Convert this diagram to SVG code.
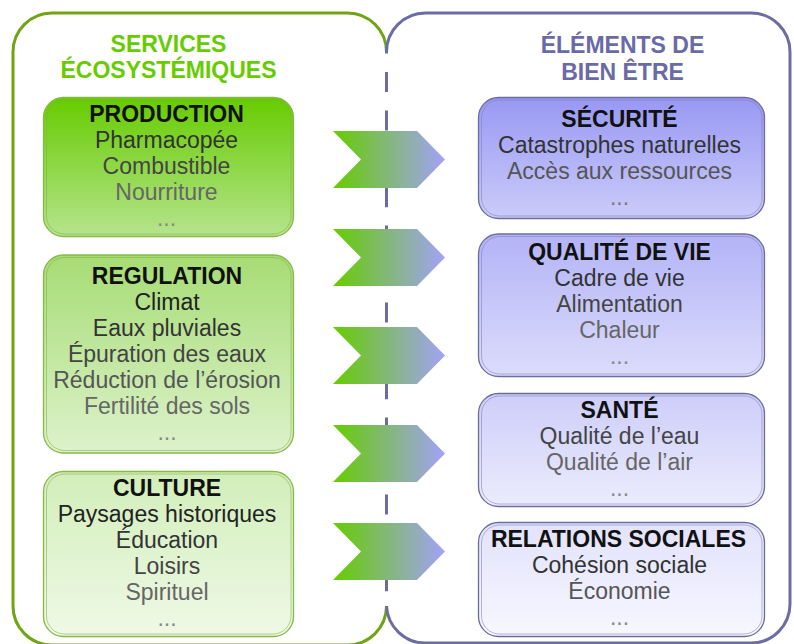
<svg xmlns="http://www.w3.org/2000/svg" width="794" height="644" viewBox="0 0 794 644">
  <defs>
    <linearGradient id="arrowGrad" x1="0" y1="0" x2="1" y2="0">
      <stop offset="0" stop-color="#66cc00"/>
      <stop offset="1" stop-color="#a2a2f8"/>
    </linearGradient>
    <linearGradient id="gProd" x1="0" y1="0" x2="0" y2="1">
      <stop offset="0" stop-color="#66cc00"/>
      <stop offset="1" stop-color="#b6e48e"/>
    </linearGradient>
    <linearGradient id="gReg" x1="0" y1="0" x2="0" y2="1">
      <stop offset="0" stop-color="#a6dc74"/>
      <stop offset="1" stop-color="#ddf2cb"/>
    </linearGradient>
    <linearGradient id="gCult" x1="0" y1="0" x2="0" y2="1">
      <stop offset="0" stop-color="#d2eeb9"/>
      <stop offset="1" stop-color="#eff9e7"/>
    </linearGradient>
    <linearGradient id="gSec" x1="0" y1="0" x2="0" y2="1">
      <stop offset="0" stop-color="#9898f4"/>
      <stop offset="1" stop-color="#cbcbfa"/>
    </linearGradient>
    <linearGradient id="gQual" x1="0" y1="0" x2="0" y2="1">
      <stop offset="0" stop-color="#b3b3f7"/>
      <stop offset="1" stop-color="#dcdcfc"/>
    </linearGradient>
    <linearGradient id="gSante" x1="0" y1="0" x2="0" y2="1">
      <stop offset="0" stop-color="#cdcdfa"/>
      <stop offset="1" stop-color="#ececfd"/>
    </linearGradient>
    <linearGradient id="gRel" x1="0" y1="0" x2="0" y2="1">
      <stop offset="0" stop-color="#e2e2fc"/>
      <stop offset="1" stop-color="#f7f7ff"/>
    </linearGradient>
    <path id="chevron" d="M0,0 H84 L112,28.5 L84,57 H0 L28,28.5 Z"/>
  </defs>
  <style>
    text { font-family: "Liberation Sans", Arial, sans-serif; font-size: 23px; text-anchor: middle; }
    .head { font-weight: bold; }
    .headG { fill: #66cc00; }
    .headP { fill: #6a6aa6; }
    .title { font-weight: bold; fill: #111; }
    .boxG { stroke: #86b845; stroke-width: 1.3; }
    .boxP { stroke: #6c6c9e; stroke-width: 1.3; }
    .inner { fill: none; stroke-width: 0.9; opacity: 0.6; }
    .innerG { stroke: #7fae3c; }
    .innerP { stroke: #7c7cae; }
    .panelG { fill: none; stroke: #70a414; stroke-width: 3; }
    .panelP { fill: none; stroke: #6c6ca4; stroke-width: 3; }
    .divider { stroke: #6c6c9e; stroke-width: 3; stroke-dasharray: 20 18.4; stroke-dashoffset: 18.4; }
    .c2 { fill: #222; } .c3 { fill: #333; } .c4 { fill: #444; } .c5 { fill: #555; }
    .c6 { fill: #666; } .c7 { fill: #777; } .c8 { fill: #888; }
  </style>

  <!-- outer panels -->
  <g id="panel-services">
    <path class="panelG" d="M386.5,52 A39,39 0 0 0 347.5,13 H52 A39,39 0 0 0 13,52 V606 A39,39 0 0 0 52,645 H347.5 A39,39 0 0 0 386.5,606"/>
    <text class="head headG" x="168.5" y="52">SERVICES</text>
    <text class="head headG" x="168.5" y="77.5">ÉCOSYSTÉMIQUES</text>
  </g>
  <g id="panel-bienetre">
    <path class="panelP" d="M386.5,52 A39,39 0 0 1 425.5,13 H751 A39,39 0 0 1 790,52 V604 A39,39 0 0 1 751,643 H425.5 A39,39 0 0 1 386.5,606"/>
    <text class="head headP" x="622.5" y="53">ÉLÉMENTS DE</text>
    <text class="head headP" x="622.5" y="79.5">BIEN ÊTRE</text>
  </g>

  <!-- connectors: divider and chevrons -->
  <g id="connectors">
    <line class="divider" x1="386.5" y1="52" x2="386.5" y2="606"/>
    <use href="#chevron" x="333" y="131" fill="url(#arrowGrad)"/>
    <use href="#chevron" x="333" y="229" fill="url(#arrowGrad)"/>
    <use href="#chevron" x="333" y="327" fill="url(#arrowGrad)"/>
    <use href="#chevron" x="333" y="425" fill="url(#arrowGrad)"/>
    <use href="#chevron" x="333" y="523" fill="url(#arrowGrad)"/>
  </g>

  <!-- ecosystem services -->
  <g id="production">
    <rect class="boxG" x="43.5" y="97.5" width="250" height="139" rx="20" fill="url(#gProd)"/>
    <rect class="inner innerG" x="46.5" y="100" width="244.5" height="134" rx="18"/>
    <text class="title" x="166.5" y="122">PRODUCTION</text>
    <text class="c3" x="166.5" y="148">Pharmacopée</text>
    <text class="c4" x="166.5" y="174">Combustible</text>
    <text class="c6" x="166.5" y="200">Nourriture</text>
    <text class="c8" x="166.5" y="226">...</text>
  </g>
  <g id="regulation">
    <rect class="boxG" x="43.5" y="255" width="250" height="198" rx="20" fill="url(#gReg)"/>
    <rect class="inner innerG" x="46.5" y="257.5" width="244.5" height="193" rx="18"/>
    <text class="title" x="167" y="283.5">REGULATION</text>
    <text class="c2" x="167" y="309.5">Climat</text>
    <text class="c3" x="167" y="335.5">Eaux pluviales</text>
    <text class="c4" x="167" y="361.5">Épuration des eaux</text>
    <text class="c5" x="167" y="387.5">Réduction de l’érosion</text>
    <text class="c6" x="167" y="413.5">Fertilité des sols</text>
    <text class="c8" x="167" y="439.5">...</text>
  </g>
  <g id="culture">
    <rect class="boxG" x="43.5" y="471.5" width="250" height="165" rx="20" fill="url(#gCult)"/>
    <rect class="inner innerG" x="46.5" y="474" width="244.5" height="160" rx="18"/>
    <text class="title" x="167" y="496">CULTURE</text>
    <text class="c2" x="167" y="522">Paysages historiques</text>
    <text class="c3" x="167" y="548">Éducation</text>
    <text class="c4" x="167" y="574">Loisirs</text>
    <text class="c6" x="167" y="600">Spirituel</text>
    <text class="c8" x="167" y="626">...</text>
  </g>

  <!-- well-being elements -->
  <g id="securite">
    <rect class="boxP" x="478.5" y="97.5" width="286" height="121" rx="20" fill="url(#gSec)"/>
    <rect class="inner innerP" x="481.5" y="100" width="280.5" height="116" rx="18"/>
    <text class="title" x="619.5" y="126.5">SÉCURITÉ</text>
    <text class="c3" x="619.5" y="152.5">Catastrophes naturelles</text>
    <text class="c5" x="619.5" y="178.5">Accès aux ressources</text>
    <text class="c7" x="619.5" y="204.5">...</text>
  </g>
  <g id="qualite-de-vie">
    <rect class="boxP" x="478.5" y="234" width="286" height="142.5" rx="20" fill="url(#gQual)"/>
    <rect class="inner innerP" x="481.5" y="236.5" width="280.5" height="137.5" rx="18"/>
    <text class="title" x="619.5" y="260">QUALITÉ DE VIE</text>
    <text class="c3" x="619.5" y="286">Cadre de vie</text>
    <text class="c4" x="619.5" y="312">Alimentation</text>
    <text class="c6" x="619.5" y="338">Chaleur</text>
    <text class="c8" x="619.5" y="364">...</text>
  </g>
  <g id="sante">
    <rect class="boxP" x="478.5" y="393.5" width="286" height="113" rx="20" fill="url(#gSante)"/>
    <rect class="inner innerP" x="481.5" y="396" width="280.5" height="108" rx="18"/>
    <text class="title" x="619.5" y="417.5">SANTÉ</text>
    <text class="c4" x="619.5" y="443.5">Qualité de l’eau</text>
    <text class="c6" x="619.5" y="469.5">Qualité de l’air</text>
    <text class="c8" x="619.5" y="495.5">...</text>
  </g>
  <g id="relations-sociales">
    <rect class="boxP" x="478.5" y="522.5" width="286" height="114" rx="20" fill="url(#gRel)"/>
    <rect class="inner innerP" x="481.5" y="525" width="280.5" height="109" rx="18"/>
    <text class="title" x="618.5" y="547">RELATIONS SOCIALES</text>
    <text class="c3" x="619.5" y="573">Cohésion sociale</text>
    <text class="c5" x="619.5" y="599">Économie</text>
    <text class="c8" x="619.5" y="625">...</text>
  </g>
</svg>
